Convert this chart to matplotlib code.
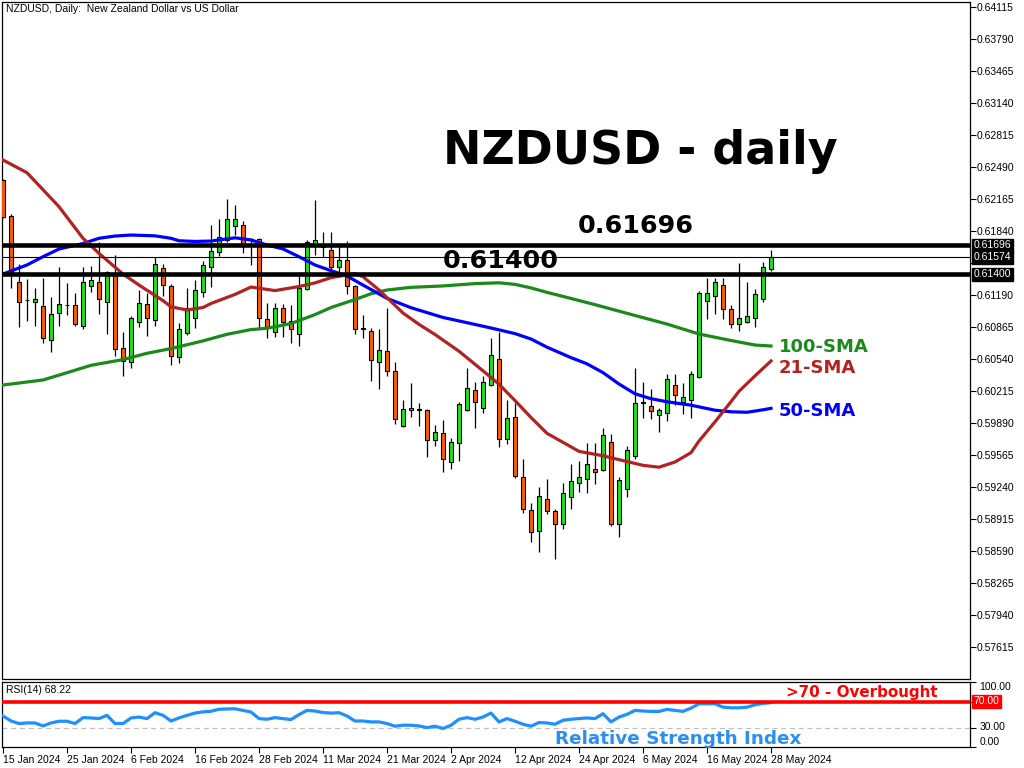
import numpy as np
import matplotlib.pyplot as plt
from matplotlib.transforms import blended_transform_factory

# NZDUSD daily candles, 15 Jan 2024 - 28 May 2024
opens = [0.62358, 0.61996, 0.61319, 0.61141, 0.61116, 0.61078, 0.60730, 0.61004, 0.61088, 0.61088,
         0.60878, 0.61278, 0.61319, 0.61116, 0.61417, 0.60648, 0.60513, 0.60913, 0.61095, 0.60933,
         0.61461, 0.61285, 0.60557, 0.60801, 0.60953, 0.61217, 0.61471, 0.61624, 0.61749, 0.61894,
         0.61901, 0.61755, 0.61759, 0.60943, 0.60818, 0.61055, 0.60926, 0.60791, 0.61248, 0.61705,
         0.61700, 0.61647, 0.61477, 0.61542, 0.61281, 0.60855, 0.60822, 0.60513, 0.60618, 0.60415,
         0.59863, 0.60022, 0.60030, 0.60025, 0.59714, 0.59785, 0.59491, 0.59684, 0.60025, 0.60222,
         0.60045, 0.60279, 0.60540, 0.59724, 0.59951, 0.59342, 0.59003, 0.58793, 0.59115, 0.58993,
         0.58861, 0.59136, 0.59284, 0.59318, 0.59423, 0.59413, 0.59694, 0.58861, 0.59217, 0.59558,
         0.60100, 0.60066, 0.59968, 0.59989, 0.60273, 0.60106, 0.60120, 0.60360, 0.61129, 0.61180,
         0.61288, 0.61045, 0.60895, 0.60913, 0.60953, 0.61146, 0.61451]
highs = [0.62365, 0.62013, 0.61501, 0.61349, 0.61258, 0.61365, 0.61173, 0.61477, 0.61308, 0.61207,
         0.61477, 0.61484, 0.61725, 0.61434, 0.61596, 0.60818, 0.60980, 0.61241, 0.61207, 0.61573,
         0.61501, 0.61299, 0.60909, 0.61264, 0.61342, 0.61538, 0.61901, 0.61962, 0.62165, 0.62104,
         0.61942, 0.61766, 0.61765, 0.61106, 0.61106, 0.61099, 0.61088, 0.61427, 0.61749, 0.62155,
         0.61833, 0.61833, 0.61698, 0.61741, 0.61290, 0.60987, 0.60852, 0.60845, 0.61055, 0.60506,
         0.60124, 0.60299, 0.60090, 0.60035, 0.59870, 0.59920, 0.59735, 0.60106, 0.60445, 0.60309,
         0.60367, 0.60757, 0.60814, 0.60124, 0.60090, 0.59524, 0.59075, 0.59237, 0.59318, 0.59020,
         0.59278, 0.59474, 0.59507, 0.59684, 0.59690, 0.59836, 0.59778, 0.59345, 0.59659, 0.60445,
         0.60309, 0.60232, 0.60039, 0.60385, 0.60388, 0.60293, 0.60418, 0.61231, 0.61365, 0.61365,
         0.61365, 0.61088, 0.61515, 0.61325, 0.61248, 0.61522, 0.61647]
lows = [0.61969, 0.61258, 0.60868, 0.60929, 0.60878, 0.60699, 0.60608, 0.60875, 0.60987, 0.60875,
        0.60842, 0.61224, 0.61000, 0.60791, 0.60573, 0.60371, 0.60452, 0.60868, 0.60777, 0.60878,
        0.61180, 0.60479, 0.60496, 0.60781, 0.60852, 0.61173, 0.61274, 0.61586, 0.61731, 0.61799,
        0.61614, 0.61494, 0.60852, 0.60757, 0.60761, 0.60761, 0.60699, 0.60675, 0.61241, 0.61596,
        0.61579, 0.61437, 0.61421, 0.61197, 0.60791, 0.60757, 0.60320, 0.60232, 0.60371, 0.59877,
        0.59849, 0.59948, 0.59863, 0.59548, 0.59659, 0.59389, 0.59420, 0.59507, 0.60015, 0.59842,
        0.59989, 0.60268, 0.59646, 0.59674, 0.59328, 0.58973, 0.58678, 0.58583, 0.58966, 0.58512,
        0.58813, 0.59014, 0.59192, 0.59182, 0.59274, 0.59406, 0.58844, 0.58729, 0.59136, 0.59521,
        0.59944, 0.59934, 0.59795, 0.59913, 0.60073, 0.59981, 0.59938, 0.60344, 0.60943, 0.60994,
        0.60949, 0.60858, 0.60824, 0.60903, 0.60862, 0.61116, 0.61437]
closes = [0.61985, 0.61410, 0.61122, 0.61137, 0.61146, 0.60750, 0.60994, 0.61095, 0.61085, 0.60892,
          0.61319, 0.61339, 0.61146, 0.61427, 0.60638, 0.60520, 0.60953, 0.61106, 0.60953, 0.61501,
          0.61288, 0.60573, 0.60842, 0.61058, 0.61238, 0.61494, 0.61637, 0.61776, 0.61959, 0.61959,
          0.61708, 0.61745, 0.60953, 0.60862, 0.61055, 0.60919, 0.60842, 0.61258, 0.61725, 0.61749,
          0.61680, 0.61477, 0.61545, 0.61281, 0.60842, 0.60849, 0.60527, 0.60628, 0.60421, 0.59927,
          0.60029, 0.60042, 0.60022, 0.59717, 0.59795, 0.59521, 0.59694, 0.60080, 0.60242, 0.60100,
          0.60303, 0.60581, 0.59724, 0.59941, 0.59352, 0.59014, 0.58780, 0.59149, 0.58993, 0.58861,
          0.59176, 0.59304, 0.59342, 0.59470, 0.59389, 0.59768, 0.58861, 0.59308, 0.59613, 0.60090,
          0.60093, 0.60009, 0.60022, 0.60334, 0.60171, 0.60151, 0.60385, 0.61207, 0.61207, 0.61325,
          0.61045, 0.60895, 0.60953, 0.60974, 0.61197, 0.61471, 0.61574]

# moving averages, read at the bar indexes given
sma21_idx = [0, 3, 7, 10, 12, 15, 17, 20, 21, 23, 25, 26, 29, 31, 34, 37, 39, 41, 44, 45, 47,
             50, 52, 54, 57, 60, 62, 64, 66, 68, 72, 75, 77, 80, 82, 84, 86, 87, 89, 91, 92, 94, 96]
sma21 = [0.62561, 0.62432, 0.62087, 0.61766, 0.61613, 0.61403, 0.61291, 0.61133, 0.61070, 0.61038,
         0.61063, 0.61104, 0.61196, 0.61271, 0.61235, 0.61276, 0.61313, 0.61366, 0.61408, 0.61376,
         0.61241, 0.61007, 0.60892, 0.60789, 0.60619, 0.60420, 0.60284, 0.60118, 0.59946, 0.59785,
         0.59602, 0.59557, 0.59518, 0.59460, 0.59441, 0.59494, 0.59589, 0.59707, 0.59902, 0.60107,
         0.60212, 0.60369, 0.60520]
sma50_idx = [0, 3, 5, 7, 10, 12, 14, 16, 19, 21, 22, 24, 26, 29, 31, 33, 35, 37, 39, 41, 43, 45,
             48, 51, 55, 58, 61, 64, 66, 68, 71, 73, 75, 77, 79, 81, 83, 86, 89, 91, 93, 95, 96]
sma50 = [0.61403, 0.61495, 0.61579, 0.61657, 0.61713, 0.61766, 0.61789, 0.61799, 0.61791, 0.61766,
         0.61741, 0.61734, 0.61738, 0.61771, 0.61749, 0.61698, 0.61658, 0.61579, 0.61495, 0.61437,
         0.61383, 0.61291, 0.61156, 0.61061, 0.60962, 0.60909, 0.60855, 0.60798, 0.60743, 0.60660,
         0.60554, 0.60491, 0.60402, 0.60286, 0.60187, 0.60137, 0.60106, 0.60071, 0.60020, 0.60004,
         0.59999, 0.60024, 0.60039]
sma100_idx = [0, 5, 8, 11, 15, 18, 21, 25, 28, 31, 33, 36, 39, 41, 44, 46, 48, 51, 55, 59, 62,
              64, 66, 68, 71, 74, 76, 79, 83, 87, 91, 94, 96]
sma100 = [0.60276, 0.60327, 0.60401, 0.60476, 0.60534, 0.60598, 0.60646, 0.60724, 0.60791, 0.60839,
          0.60852, 0.60900, 0.60991, 0.61063, 0.61144, 0.61203, 0.61241, 0.61268, 0.61282, 0.61306,
          0.61314, 0.61298, 0.61262, 0.61217, 0.61155, 0.61092, 0.61048, 0.60982, 0.60895, 0.60794,
          0.60728, 0.60682, 0.60672]

rsi = [47.7, 40, 36.1, 37, 37, 32.4, 37, 39.6, 39.6, 36.1,
       45.2, 44.7, 43.7, 48.7, 36.1, 36.1, 44.7, 46.1, 43.7, 52.8,
       48.7, 40, 44.7, 48.7, 52.2, 54, 55, 58, 58.5, 58.8,
       56.3, 53.8, 43.7, 42.7, 45.2, 43.7, 42.2, 49.8, 56.3, 55.3,
       53, 52.2, 52.8, 47.7, 40, 40, 38.6, 38.6, 36.1, 32,
       33.5, 33.5, 32.4, 29.8, 32, 28.5, 33.5, 42.7, 45.2, 42.7,
       46.1, 52.2, 38.6, 43.7, 39.6, 35, 32, 37.6, 37, 35,
       41.1, 42.7, 43.7, 44.7, 43.7, 51.2, 38.6, 46.1, 50.2, 56.3,
       55.3, 54.8, 54.8, 57.8, 56.3, 54.8, 59.8, 66.5, 66.5, 66.5,
       61.3, 60.3, 60.3, 61.3, 65, 67, 68.22]

date_labels = ["15 Jan 2024", "25 Jan 2024", "6 Feb 2024", "16 Feb 2024", "28 Feb 2024",
               "11 Mar 2024", "21 Mar 2024", "2 Apr 2024", "12 Apr 2024", "24 Apr 2024",
               "6 May 2024", "16 May 2024", "28 May 2024"]
date_idx = list(range(0, 97, 8))

price_ticks = [0.64115 - 0.00325 * k for k in range(21)]
levels = [0.61696, 0.61400]
last_price = 0.61574

W, H = 1024, 768
fig = plt.figure(figsize=(W / 100, H / 100), dpi=100)
ax = fig.add_axes([2 / W, 1 - 679 / H, 968 / W, 677 / H])
ax_rsi = fig.add_axes([2 / W, 1 - 747 / H, 968 / W, 65 / H])

tick_font = dict(family='Liberation Sans', fontsize=7.5)

# candles
x = np.arange(len(closes))
o = np.array(opens)
c = np.array(closes)
up = c >= o
body = np.maximum(np.abs(c - o), 0.00003)
bottom = np.minimum(o, c)
ax.vlines(x, lows, highs, color='black', lw=0.9, zorder=2)
ax.bar(x[up], body[up], bottom=bottom[up], width=0.6, color='#19e619',
       edgecolor='black', linewidth=0.8, zorder=3)
ax.bar(x[~up], body[~up], bottom=bottom[~up], width=0.6, color='#ff5a00',
       edgecolor='black', linewidth=0.8, zorder=3)

ax.plot(sma100_idx, sma100, color='#1a8a1a', lw=2.3, zorder=4)
ax.plot(sma50_idx, sma50, color='#0000ff', lw=2.3, zorder=4)
ax.plot(sma21_idx, sma21, color='#b22222', lw=2.3, zorder=4)

for lv in levels:
    ax.axhline(lv, color='black', lw=3.3, zorder=5)
ax.axhline(last_price, color='black', lw=0.8, zorder=5)

ax.set_xlim(-0.125, 120.875)
ax.set_ylim(0.57290, 0.64166)
ax.set_xticks([])
ax.yaxis.tick_right()
ax.set_yticks(price_ticks)
# the 0.61515 label sits under the price boxes, so it is left blank
ax.set_yticklabels(['' if abs(p - 0.61515) < 1e-6 else '%.5f' % p for p in price_ticks],
                   **tick_font)
ax.tick_params(axis='y', direction='out', length=4, pad=1, width=0.8)
for s in ax.spines.values():
    s.set_linewidth(0.9)

# price boxes on the right scale
trans = blended_transform_factory(ax.transAxes, ax.transData)
for p in [0.61696, last_price, 0.61400]:
    ax.text(1.004, p, '%.5f' % p, transform=trans, ha='left', va='center',
            color='white', clip_on=False, zorder=10,
            bbox=dict(facecolor='black', edgecolor='black', pad=1.2), **tick_font)

# RSI panel
ax_rsi.plot(x, rsi, color='#1e90ff', lw=2.3, zorder=3)
ax_rsi.axhline(70, color='#ff0000', lw=2.6, zorder=4)
ax_rsi.axhline(30, color='#c0c0c0', lw=0.9, ls=(0, (4, 3)), zorder=2)
ax_rsi.set_xlim(-0.125, 120.875)
ax_rsi.set_ylim(0, 100)
ax_rsi.yaxis.tick_right()
ax_rsi.set_yticks([0, 30, 70, 100])
ax_rsi.set_yticklabels([])
ax_rsi.tick_params(axis='y', direction='out', length=4, width=0.8)
ax_rsi.set_xticks(date_idx)
ax_rsi.set_xticklabels(date_labels, ha='left', **tick_font)
ax_rsi.tick_params(axis='x', direction='out', length=4, pad=2, width=0.8)
for s in ax_rsi.spines.values():
    s.set_linewidth(0.9)

rtrans = blended_transform_factory(ax_rsi.transAxes, ax_rsi.transData)
ax_rsi.text(1.01, 100, '100.00', transform=rtrans, ha='left', va='top', **tick_font)
ax_rsi.text(1.01, 30, '30.00', transform=rtrans, ha='left', va='center', **tick_font)
ax_rsi.text(1.01, 0, '0.00', transform=rtrans, ha='left', va='bottom', **tick_font)
ax_rsi.text(1.004, 70, '70.00', transform=rtrans, ha='left', va='center', color='white',
            clip_on=False, zorder=10,
            bbox=dict(facecolor='#ff0000', edgecolor='#ff0000', pad=1.2), **tick_font)

# labels
fig.text(6 / W, 1 - 9 / H, 'NZDUSD, Daily:  New Zealand Dollar vs US Dollar',
         va='center', ha='left', **tick_font)
fig.text(6 / W, 1 - 690 / H, 'RSI(14) 68.22', va='center', ha='left', **tick_font)

fig.text(443 / W, 1 - 164 / H, 'NZDUSD - daily', fontsize=33, fontweight='bold', va='baseline')
fig.text(578 / W, 1 - 233 / H, '0.61696', fontsize=18.3, fontweight='bold', va='baseline')
fig.text(443 / W, 1 - 268 / H, '0.61400', fontsize=18.3, fontweight='bold', va='baseline')
fig.text(779 / W, 1 - 352.5 / H, '100-SMA', fontsize=13, fontweight='bold', color='#1a8a1a', va='baseline')
fig.text(779 / W, 1 - 372.5 / H, '21-SMA', fontsize=13, fontweight='bold', color='#b22222', va='baseline')
fig.text(779 / W, 1 - 416.5 / H, '50-SMA', fontsize=13, fontweight='bold', color='#0000ff', va='baseline')
fig.text(786 / W, 1 - 697.5 / H, '>70 - Overbought', fontsize=10.9, fontweight='bold', color='#ff0000', va='baseline')
fig.text(555 / W, 1 - 744 / H, 'Relative Strength Index', fontsize=13.2, fontweight='bold',
         color='#2b8ff0', va='baseline')

fig.savefig('out.png', dpi=100)
